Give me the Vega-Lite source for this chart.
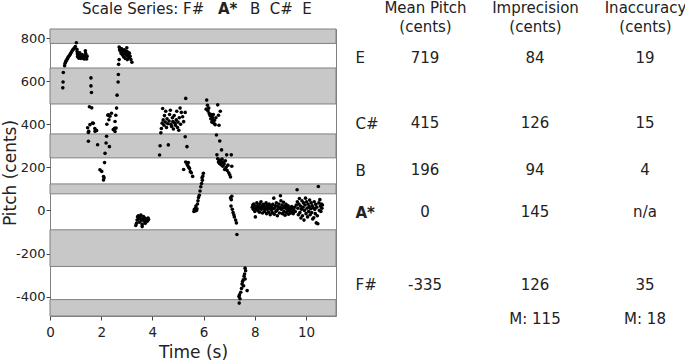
{
  "$schema": "https://vega.github.io/schema/vega-lite/v6.json",
  "padding": 0,
  "background": "white",
  "spacing": 18,
  "config": {
    "font": "DejaVu Sans",
    "view": {"stroke": "#808080", "strokeWidth": 1},
    "axis": {"grid": false, "domain": false, "labelColor": "#222222", "titleColor": "#222222", "titleFontWeight": "normal", "tickColor": "#444444", "labelFlush": false, "labelOverlap": false}
  },
  "datasets": {
    "bands": [
      {"lo": 775, "hi": 842},
      {"lo": 494, "hi": 661},
      {"lo": 244, "hi": 355},
      {"lo": 77, "hi": 123},
      {"lo": -260, "hi": -90},
      {"lo": -490, "hi": -414}
    ],
    "table": [
      {"note": "E", "mean": 719, "imp": "84", "inacc": "19"},
      {"note": "C#", "mean": 415, "imp": "126", "inacc": "15"},
      {"note": "B", "mean": 196, "imp": "94", "inacc": "4"},
      {"note": "A*", "mean": 0, "imp": "145", "inacc": "n/a"},
      {"note": "F#", "mean": -335, "imp": "126", "inacc": "35"}
    ],
    "pts": [
      {"t":0.50,"p":569},{"t":0.51,"p":596},{"t":0.52,"p":640},{"t":0.57,"p":672},{"t":0.59,"p":683},{"t":0.61,"p":690},{"t":0.63,"p":694},{"t":0.66,"p":700},{"t":0.68,"p":704},{"t":0.70,"p":708},{"t":0.72,"p":713},{"t":0.75,"p":718},{"t":0.78,"p":722},{"t":0.80,"p":727},{"t":0.83,"p":733},{"t":0.86,"p":740},{"t":0.89,"p":745},{"t":0.92,"p":749},{"t":0.95,"p":753},{"t":0.99,"p":761},{"t":1.03,"p":778},{"t":1.05,"p":748},{"t":1.06,"p":737},{"t":1.07,"p":726},{"t":1.08,"p":716},{"t":1.10,"p":711},{"t":1.12,"p":707},{"t":1.14,"p":720},{"t":1.16,"p":731},{"t":1.18,"p":714},{"t":1.20,"p":705},{"t":1.22,"p":712},{"t":1.25,"p":723},{"t":1.27,"p":709},{"t":1.30,"p":705},{"t":1.32,"p":716},{"t":1.34,"p":703},{"t":1.36,"p":712},{"t":1.38,"p":741},{"t":1.39,"p":729},{"t":1.40,"p":720},{"t":1.41,"p":709},{"t":1.43,"p":703},{"t":1.45,"p":716},
      {"t":1.47,"p":384},{"t":1.50,"p":362},{"t":1.50,"p":321},{"t":1.51,"p":367},{"t":1.54,"p":481},{"t":1.56,"p":398},{"t":1.60,"p":615},{"t":1.60,"p":578},{"t":1.62,"p":547},{"t":1.63,"p":476},{"t":1.66,"p":406},{"t":1.69,"p":404},{"t":1.75,"p":380},{"t":1.76,"p":367},{"t":1.80,"p":372},{"t":1.82,"p":371},{"t":1.86,"p":305},{"t":1.95,"p":189},{"t":2.02,"p":181},{"t":2.09,"p":157},{"t":2.09,"p":141},{"t":2.11,"p":151},{"t":2.13,"p":222},{"t":2.15,"p":265},{"t":2.19,"p":313},{"t":2.21,"p":344},{"t":2.22,"p":400},{"t":2.26,"p":442},{"t":2.28,"p":444},{"t":2.30,"p":421},{"t":2.32,"p":296},{"t":2.34,"p":437},{"t":2.40,"p":451},{"t":2.47,"p":375},{"t":2.52,"p":381},{"t":2.54,"p":413},{"t":2.54,"p":366},{"t":2.57,"p":442},{"t":2.58,"p":382},{"t":2.60,"p":475},{"t":2.62,"p":535},{"t":2.66,"p":596},{"t":2.67,"p":631},{"t":2.68,"p":678},
      {"t":2.70,"p":700},{"t":2.70,"p":758},{"t":2.72,"p":745},{"t":2.74,"p":752},{"t":2.76,"p":738},{"t":2.78,"p":728},{"t":2.80,"p":750},{"t":2.82,"p":742},{"t":2.84,"p":720},{"t":2.86,"p":735},{"t":2.88,"p":712},{"t":2.90,"p":745},{"t":2.92,"p":730},{"t":2.94,"p":705},{"t":2.96,"p":725},{"t":2.98,"p":740},{"t":3.00,"p":718},{"t":3.00,"p":755},{"t":3.02,"p":700},{"t":3.04,"p":735},{"t":3.06,"p":722},{"t":3.08,"p":710},{"t":3.10,"p":730},{"t":3.13,"p":715},{"t":3.16,"p":700},{"t":3.20,"p":688},
      {"t":3.35,"p":-70},{"t":3.38,"p":-60},{"t":3.40,"p":-45},{"t":3.42,"p":-30},{"t":3.45,"p":-25},{"t":3.47,"p":-40},{"t":3.48,"p":-35},{"t":3.50,"p":-55},{"t":3.52,"p":-30},{"t":3.55,"p":-22},{"t":3.57,"p":-45},{"t":3.60,"p":-65},{"t":3.60,"p":-75},{"t":3.62,"p":-40},{"t":3.65,"p":-28},{"t":3.68,"p":-50},{"t":3.70,"p":-35},{"t":3.72,"p":-60},{"t":3.75,"p":-45},{"t":3.78,"p":-40},{"t":3.80,"p":-50},{"t":3.83,"p":-35},{"t":3.85,"p":-42},
      {"t":4.28,"p":257},{"t":4.30,"p":300},{"t":4.33,"p":360},{"t":4.35,"p":380},{"t":4.38,"p":405},{"t":4.40,"p":473},{"t":4.42,"p":420},{"t":4.45,"p":395},{"t":4.47,"p":440},{"t":4.50,"p":410},{"t":4.52,"p":460},{"t":4.55,"p":385},{"t":4.57,"p":425},{"t":4.60,"p":402},{"t":4.62,"p":304},{"t":4.65,"p":415},{"t":4.67,"p":445},{"t":4.70,"p":465},{"t":4.72,"p":400},{"t":4.75,"p":390},{"t":4.78,"p":430},{"t":4.80,"p":412},{"t":4.82,"p":378},{"t":4.85,"p":440},{"t":4.88,"p":405},{"t":4.90,"p":395},{"t":4.93,"p":420},{"t":4.95,"p":460},{"t":4.98,"p":385},{"t":5.00,"p":410},{"t":5.03,"p":372},{"t":5.05,"p":430},{"t":5.08,"p":475},{"t":5.10,"p":400},{"t":5.13,"p":455},{"t":5.18,"p":435},{"t":5.22,"p":412},{"t":5.28,"p":455},{"t":5.30,"p":520},{"t":5.28,"p":342},{"t":5.35,"p":296},
      {"t":5.22,"p":190},{"t":5.30,"p":225},{"t":5.35,"p":215},{"t":5.38,"p":208},{"t":5.40,"p":222},{"t":5.42,"p":200},{"t":5.45,"p":195},{"t":5.48,"p":180},{"t":5.52,"p":175},{"t":5.57,"p":158},
      {"t":5.62,"p":-5},{"t":5.64,"p":5},{"t":5.66,"p":-3},{"t":5.68,"p":10},{"t":5.70,"p":20},{"t":5.72,"p":0},{"t":5.74,"p":8},{"t":5.76,"p":30},{"t":5.78,"p":45},{"t":5.80,"p":60},{"t":5.83,"p":70},{"t":5.86,"p":90},{"t":5.89,"p":110},{"t":5.92,"p":125},{"t":5.94,"p":152},{"t":5.95,"p":140},{"t":5.97,"p":160},{"t":5.99,"p":172},
      {"t":6.10,"p":470},{"t":6.12,"p":512},{"t":6.15,"p":488},{"t":6.17,"p":462},{"t":6.20,"p":475},{"t":6.22,"p":450},{"t":6.25,"p":440},{"t":6.28,"p":425},{"t":6.30,"p":445},{"t":6.32,"p":410},{"t":6.34,"p":432},{"t":6.36,"p":420},{"t":6.38,"p":445},{"t":6.40,"p":405},{"t":6.42,"p":418},{"t":6.45,"p":398},{"t":6.48,"p":430},{"t":6.50,"p":350},{"t":6.55,"p":490},{"t":6.58,"p":442},{"t":6.60,"p":395},{"t":6.63,"p":322},{"t":6.65,"p":460},
      {"t":6.52,"p":258},{"t":6.55,"p":240},{"t":6.58,"p":225},{"t":6.60,"p":235},{"t":6.62,"p":218},{"t":6.65,"p":228},{"t":6.68,"p":212},{"t":6.70,"p":281},{"t":6.70,"p":222},{"t":6.72,"p":238},{"t":6.75,"p":205},{"t":6.77,"p":225},{"t":6.80,"p":215},{"t":6.82,"p":190},{"t":6.85,"p":230},{"t":6.88,"p":200},{"t":6.90,"p":258},{"t":6.92,"p":185},{"t":6.95,"p":210},{"t":6.98,"p":175},{"t":7.02,"p":165},{"t":7.05,"p":155},{"t":7.08,"p":258},{"t":7.10,"p":205},
      {"t":7.05,"p":58},{"t":7.10,"p":66},{"t":7.08,"p":50},{"t":7.07,"p":20},{"t":7.12,"p":5},{"t":7.15,"p":-10},{"t":7.18,"p":-20},{"t":7.20,"p":-30},{"t":7.25,"p":-45},{"t":7.28,"p":-58},{"t":7.30,"p":-112},
      {"t":7.62,"p":-268},{"t":7.64,"p":-280},{"t":7.60,"p":-295},{"t":7.58,"p":-305},{"t":7.62,"p":-318},{"t":7.55,"p":-322},{"t":7.52,"p":-330},{"t":7.50,"p":-342},{"t":7.56,"p":-350},{"t":7.48,"p":-362},{"t":7.70,"p":-372},{"t":7.45,"p":-380},{"t":7.40,"p":-392},{"t":7.38,"p":-400},{"t":7.42,"p":-410},{"t":7.39,"p":-430},
      {"t":7.90,"p":15},{"t":7.92,"p":25},{"t":7.94,"p":5},{"t":7.96,"p":30},{"t":7.98,"p":12},{"t":8.00,"p":-5},{"t":8.02,"p":-30},{"t":8.04,"p":20},{"t":8.06,"p":8},{"t":8.08,"p":35},{"t":8.10,"p":18},{"t":8.12,"p":0},{"t":8.14,"p":25},{"t":8.16,"p":10},{"t":8.18,"p":-8},{"t":8.20,"p":30},{"t":8.22,"p":15},{"t":8.24,"p":40},{"t":8.26,"p":5},{"t":8.28,"p":22},{"t":8.30,"p":-12},{"t":8.32,"p":18},{"t":8.34,"p":28},{"t":8.36,"p":8},{"t":8.38,"p":-5},{"t":8.40,"p":20},{"t":8.42,"p":12},{"t":8.44,"p":35},{"t":8.46,"p":-15},{"t":8.48,"p":5},{"t":8.50,"p":25},{"t":8.52,"p":15},{"t":8.54,"p":-8},{"t":8.56,"p":30},{"t":8.58,"p":10},{"t":8.60,"p":-20},{"t":8.62,"p":20},{"t":8.64,"p":2},{"t":8.66,"p":15},{"t":8.68,"p":-10},{"t":8.70,"p":28},{"t":8.72,"p":8},{"t":8.74,"p":57},{"t":8.76,"p":-18},{"t":8.78,"p":12},{"t":8.80,"p":22},{"t":8.82,"p":-5},{"t":8.84,"p":35},{"t":8.86,"p":0},{"t":8.88,"p":-25},{"t":8.90,"p":18},{"t":8.92,"p":8},{"t":8.94,"p":30},{"t":8.96,"p":-12},{"t":8.98,"p":15},{"t":9.00,"p":68},{"t":9.02,"p":45},{"t":9.04,"p":5},{"t":9.06,"p":25},{"t":9.08,"p":-15},{"t":9.10,"p":12},{"t":9.12,"p":38},{"t":9.14,"p":-5},{"t":9.16,"p":20},{"t":9.18,"p":-22},{"t":9.20,"p":10},{"t":9.22,"p":28},{"t":9.24,"p":-10},{"t":9.26,"p":15},{"t":9.28,"p":0},{"t":9.30,"p":22},{"t":9.32,"p":-18},{"t":9.34,"p":8},{"t":9.36,"p":-5},{"t":9.38,"p":12},{"t":9.40,"p":-12},{"t":9.42,"p":5},{"t":9.44,"p":18},{"t":9.46,"p":-8},{"t":9.48,"p":10},{"t":9.50,"p":-15},{"t":9.52,"p":2},{"t":9.55,"p":15},{"t":9.58,"p":-5},{"t":9.62,"p":25},{"t":9.65,"p":96},{"t":9.66,"p":40},{"t":9.68,"p":10},{"t":9.70,"p":-20},{"t":9.72,"p":30},{"t":9.74,"p":55},{"t":9.76,"p":-10},{"t":9.78,"p":20},{"t":9.80,"p":-35},{"t":9.82,"p":5},{"t":9.84,"p":45},{"t":9.86,"p":-25},{"t":9.88,"p":15},{"t":9.90,"p":35},{"t":9.92,"p":-45},{"t":9.94,"p":0},{"t":9.96,"p":25},{"t":9.98,"p":57},{"t":10.00,"p":-15},{"t":10.02,"p":40},{"t":10.04,"p":10},{"t":10.06,"p":-30},{"t":10.08,"p":30},{"t":10.10,"p":-5},{"t":10.12,"p":18},{"t":10.14,"p":48},{"t":10.16,"p":-20},{"t":10.18,"p":8},{"t":10.20,"p":35},{"t":10.22,"p":-10},{"t":10.24,"p":22},{"t":10.26,"p":-40},{"t":10.28,"p":12},{"t":10.30,"p":-34},{"t":10.32,"p":40},{"t":10.34,"p":5},{"t":10.36,"p":-15},{"t":10.38,"p":28},{"t":10.40,"p":-58},{"t":10.42,"p":15},{"t":10.44,"p":-25},{"t":10.46,"p":-62},{"t":10.48,"p":111},{"t":10.50,"p":35},{"t":10.52,"p":0},{"t":10.54,"p":50},{"t":10.56,"p":20},{"t":10.58,"p":-5},{"t":10.60,"p":30},{"t":10.62,"p":10},{"t":10.64,"p":25}
    ]
  },
  "hconcat": [
    {
      "width": 286,
      "height": 287,
      "layer": [
        {
          "data": {"name": "bands"},
          "mark": {"type": "rect", "fill": "#c8c8c8", "stroke": "#808080", "strokeWidth": 1},
          "encoding": {
            "y": {"field": "lo", "type": "quantitative", "scale": {"domain": [-490, 842], "nice": false, "zero": false}},
            "y2": {"field": "hi"}
          }
        },
        {
          "data": {"name": "pts"},
          "mark": {"type": "circle", "size": 13, "color": "black", "opacity": 1},
          "encoding": {
            "x": {"field": "t", "type": "quantitative", "scale": {"domain": [0, 11.17], "nice": false, "zero": false},
                  "axis": {"title": "Time (s)", "values": [0, 2, 4, 6, 8, 10], "tickSize": 4, "labelFontSize": 13.5, "labelPadding": 5, "titleFontSize": 17, "titlePadding": 6}},
            "y": {"field": "p", "type": "quantitative",
                  "axis": {"title": "Pitch (cents)", "values": [-400, -200, 0, 200, 400, 600, 800], "labelExpr": "'' + datum.value", "tickSize": 4, "labelFontSize": 13, "labelPadding": 1, "titleFontSize": 17, "titlePadding": -4}}
          }
        },
        {
          "data": {"values": [{"s": "Scale Series: F#"}]},
          "mark": {"type": "text", "align": "left", "baseline": "alphabetic", "fontSize": 15, "color": "#222222"},
          "encoding": {"text": {"field": "s"}, "x": {"datum": 1.25, "type": "quantitative"}, "y": {"datum": 913, "type": "quantitative"}}
        },
        {
          "data": {"values": [{"s": "A*"}]},
          "mark": {"type": "text", "align": "left", "baseline": "alphabetic", "fontSize": 15, "fontWeight": "bold", "color": "#222222"},
          "encoding": {"text": {"field": "s"}, "x": {"datum": 6.56, "type": "quantitative"}, "y": {"datum": 913, "type": "quantitative"}}
        },
        {
          "data": {"values": [{"s": "B\u00a0\u00a0C#\u00a0\u00a0E"}]},
          "mark": {"type": "text", "align": "left", "baseline": "alphabetic", "fontSize": 15, "color": "#222222"},
          "encoding": {"text": {"field": "s"}, "x": {"datum": 7.81, "type": "quantitative"}, "y": {"datum": 913, "type": "quantitative"}}
        }
      ]
    },
    {
      "width": 325,
      "height": 287,
      "view": {"stroke": null},
      "layer": [
        {
          "data": {"name": "table"},
          "transform": [{"fold": ["mean", "imp", "inacc"], "as": ["col", "val"]}],
          "mark": {"type": "text", "fontSize": 15, "baseline": "middle", "dy": 2, "color": "#222222"},
          "encoding": {
            "x": {"field": "col", "type": "nominal",
                  "scale": {"type": "point", "domain": ["mean", "imp", "inacc"], "padding": 0.4773, "align": 0.6095},
                  "axis": {"orient": "top", "title": null, "ticks": false, "labelAngle": 0, "labelFontSize": 15, "labelLineHeight": 19, "labelBaseline": "alphabetic", "labelPadding": 16.6, "labelBound": false,
                           "labelExpr": "datum.value == 'mean' ? ['Mean Pitch', '(cents)'] : datum.value == 'imp' ? ['Imprecision', '(cents)'] : ['Inaccuracy', '(cents)']"}},
            "y": {"field": "mean", "type": "quantitative", "scale": {"domain": [-490, 842], "nice": false, "zero": false},
                  "axis": {"orient": "left", "title": null, "ticks": false, "values": [719, 415, 196, 0, -335], "labelAlign": "left", "labelPadding": 6, "labelOffset": 2, "labelFontSize": 15,
                           "labelExpr": "datum.value == 719 ? 'E' : datum.value == 415 ? 'C#' : datum.value == 196 ? 'B' : datum.value == 0 ? 'A*' : 'F#'",
                           "labelFontWeight": {"condition": {"test": "datum.value == 0", "value": "bold"}, "value": "normal"}}},
            "text": {"field": "val"}
          }
        },
        {
          "data": {"values": [{"col": "imp", "val": "M: 115"}, {"col": "inacc", "val": "M: 18"}]},
          "mark": {"type": "text", "fontSize": 15, "baseline": "middle", "color": "#222222"},
          "encoding": {
            "x": {"field": "col", "type": "nominal"},
            "y": {"datum": -503, "type": "quantitative"},
            "text": {"field": "val"}
          }
        }
      ]
    }
  ]
}
